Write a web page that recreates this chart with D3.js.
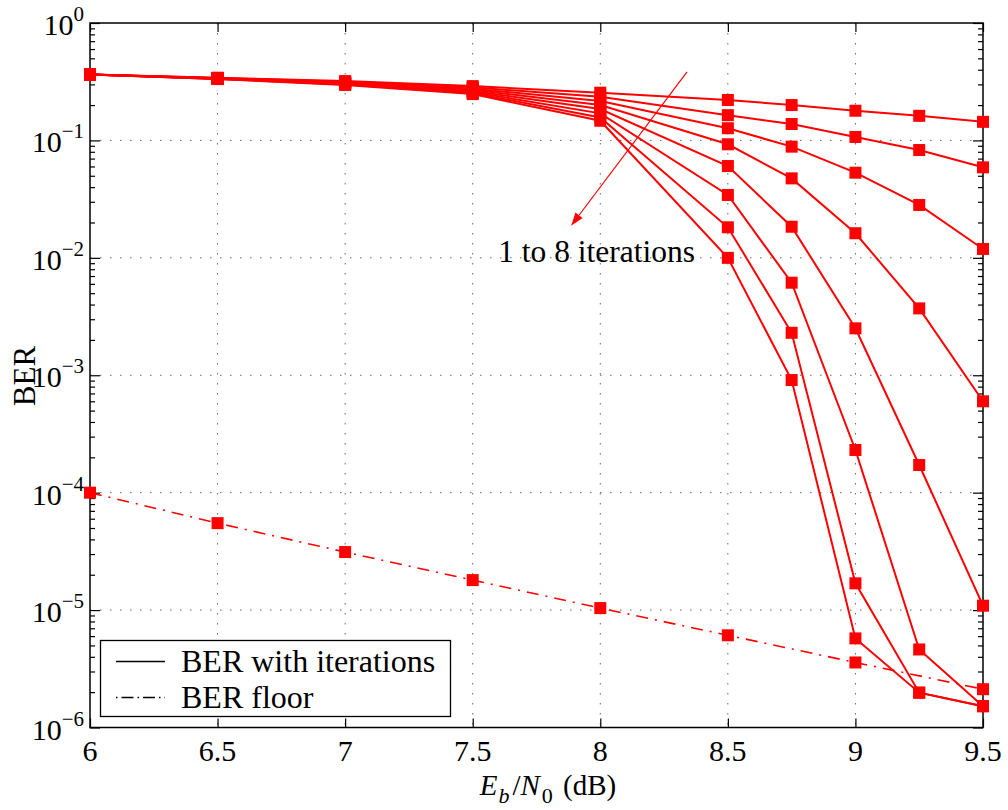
<!DOCTYPE html>
<html>
<head>
<meta charset="utf-8">
<script src="https://cdn.jsdelivr.net/npm/d3@7/dist/d3.min.js"></script>
<style>
  html, body { margin: 0; padding: 0; background: #fff; }
  svg { display: block; }
</style>
</head>
<body>
<svg id="chart" width="1008" height="810" font-family="'Liberation Serif', Tinos, 'Times New Roman', Times, 'DejaVu Serif', serif"></svg>
<script>
// ---- data ----
const ebn0 = [6, 6.5, 7, 7.5, 8, 8.5, 8.75, 9, 9.25, 9.5];
const iter1 = [0.365, 0.342, 0.320, 0.290, 0.255, 0.221, 0.200, 0.179, 0.162, 0.144];
const iter2 = [0.365, 0.340, 0.316, 0.283, 0.235, 0.164, 0.138, 0.107, 0.0828, 0.059];
const iter3 = [0.365, 0.338, 0.312, 0.276, 0.217, 0.127, 0.0885, 0.0531, 0.0282, 0.0119];
const iter4 = [0.365, 0.337, 0.309, 0.270, 0.200, 0.0927, 0.0475, 0.0162, 0.00371, 6.0e-4];
const iter5 = [0.365, 0.336, 0.306, 0.264, 0.185, 0.0605, 0.0184, 0.00251, 1.72e-4, 1.09e-5];
const iter6 = [0.365, 0.335, 0.303, 0.258, 0.170, 0.0343, 0.00614, 2.31e-4, 4.62e-6, 1.52e-6];
const iter7 = [0.365, 0.334, 0.300, 0.253, 0.157, 0.0182, 0.0023, 1.69e-5, 1.98e-6, 1.52e-6];
const iter8 = [0.365, 0.333, 0.297, 0.248, 0.147, 0.0100, 9.1e-4, 5.74e-6, 1.98e-6, 1.52e-6];
const iterations = [iter1, iter2, iter3, iter4, iter5, iter6, iter7, iter8];

const floorX = [6, 6.5, 7, 7.5, 8, 8.5, 9, 9.5];
const floorBER = [1.0e-4, 5.5e-5, 3.12e-5, 1.8e-5, 1.04e-5, 6.1e-6, 3.58e-6, 2.12e-6];

const xTicks = [6, 6.5, 7, 7.5, 8, 8.5, 9, 9.5];
const yExponents = [0, -1, -2, -3, -4, -5, -6];
const legendLabels = ["BER with iterations", "BER floor"];
const annotationText = "1 to 8 iterations";
const arrowFrom = [8.34, 0.383];
const arrowTo = [7.886, 0.0188];
const annotationPos = [7.6, 0.0092];

// ---- layout ----
const L = 90, R = 983, T = 23, B = 727.5;
const red = "#ff0000";
const svg = d3.select("#chart");

const x = d3.scaleLinear().domain([6, 9.5]).range([L, R]);
const y = d3.scaleLog().domain([1e-6, 1]).range([B, T]);

// grid
const grid = svg.append("g");
xTicks.forEach(t => {
  if (t === 6 || t === 9.5) return;
  grid.append("line").attr("x1", x(t)).attr("x2", x(t)).attr("y1", T).attr("y2", B)
    .attr("stroke", "#666").attr("stroke-width", 1).attr("stroke-dasharray", "1.5,8.5");
});
yExponents.forEach(e => {
  if (e === 0 || e === -6) return;
  const v = Math.pow(10, e);
  grid.append("line").attr("x1", L).attr("x2", R).attr("y1", y(v)).attr("y2", y(v))
    .attr("stroke", "#666").attr("stroke-width", 1).attr("stroke-dasharray", "1.5,8.5");
});

// axes with inside ticks
const majorY = yExponents.map(e => Math.pow(10, e));
const minorY = [];
for (let e = -6; e < 0; e++) for (let m = 2; m <= 9; m++) minorY.push(m * Math.pow(10, e));

function addAxis(axisGen, tx, ty) {
  const g = svg.append("g").attr("transform", `translate(${tx},${ty})`).call(axisGen);
  g.selectAll("text").remove();
  g.select(".domain").remove();
  g.selectAll("line").attr("stroke", "#000").attr("stroke-width", 1.2);
  return g;
}
addAxis(d3.axisTop(x).tickValues(xTicks).tickSize(9), 0, B);
addAxis(d3.axisBottom(x).tickValues(xTicks).tickSize(9), 0, T);
addAxis(d3.axisRight(y).tickValues(majorY).tickSize(10), L, 0);
addAxis(d3.axisRight(y).tickValues(minorY).tickSize(5), L, 0);
addAxis(d3.axisLeft(y).tickValues(majorY).tickSize(10), R, 0);
addAxis(d3.axisLeft(y).tickValues(minorY).tickSize(5), R, 0);

svg.append("rect").attr("x", L).attr("y", T).attr("width", R - L).attr("height", B - T)
  .attr("fill", "none").attr("stroke", "#000").attr("stroke-width", 1.5);

// x tick labels
xTicks.forEach(t => {
  svg.append("text").attr("x", x(t)).attr("y", 761).attr("text-anchor", "middle")
    .attr("font-size", 30).text(String(t));
});
// y tick labels
yExponents.forEach(e => {
  const v = Math.pow(10, e);
  const tx = svg.append("text").attr("x", 84).attr("y", y(v) + 12).attr("text-anchor", "end")
    .attr("font-size", 30);
  tx.append("tspan").text("10");
  tx.append("tspan").attr("dy", -14).attr("font-size", 21).text(e === 0 ? "0" : "\u2212" + Math.abs(e));
});

// axis labels
const xl = svg.append("text").attr("x", 548).attr("y", 795).attr("text-anchor", "middle").attr("font-size", 29);
xl.append("tspan").attr("font-style", "italic").text("E");
xl.append("tspan").attr("font-style", "italic").attr("font-size", 22).attr("dy", 8).attr("dx", 1).text("b");
xl.append("tspan").attr("dy", -8).attr("dx", 3).text("/");
xl.append("tspan").attr("font-style", "italic").text("N");
xl.append("tspan").attr("font-size", 22).attr("dy", 8).attr("dx", 2).text("0");
xl.append("tspan").attr("dy", -8).attr("dx", 3).text(" (dB)");

svg.append("text").attr("transform", "translate(35,376) rotate(-90)").attr("text-anchor", "middle")
  .attr("font-size", 31).text("BER");

// series
const line = d3.line().x(d => x(d[0])).y(d => y(d[1]));
const plot = svg.append("g");
iterations.forEach(s => {
  const pts = ebn0.map((xv, i) => [xv, s[i]]);
  plot.append("path").attr("d", line(pts)).attr("fill", "none").attr("stroke", red).attr("stroke-width", 2);
});
const floorPts = floorX.map((xv, i) => [xv, floorBER[i]]);
plot.append("path").attr("d", line(floorPts)).attr("fill", "none").attr("stroke", red)
  .attr("stroke-width", 1.6).attr("stroke-dasharray", "12,7,2,7");

const ms = 12;
iterations.forEach(s => {
  ebn0.forEach((xv, i) => {
    plot.append("rect").attr("x", x(xv) - ms / 2).attr("y", y(s[i]) - ms / 2)
      .attr("width", ms).attr("height", ms).attr("fill", red);
  });
});
floorPts.forEach(p => {
  plot.append("rect").attr("x", x(p[0]) - ms / 2).attr("y", y(p[1]) - ms / 2)
    .attr("width", ms).attr("height", ms).attr("fill", red);
});

// annotation arrow
const ax1 = x(arrowFrom[0]), ay1 = y(arrowFrom[1]), ax2 = x(arrowTo[0]), ay2 = y(arrowTo[1]);
const ang = Math.atan2(ay2 - ay1, ax2 - ax1);
const hl = 13, hw = 4.5;
const bx = ax2 - hl * Math.cos(ang), by = ay2 - hl * Math.sin(ang);
svg.append("line").attr("x1", ax1).attr("y1", ay1).attr("x2", bx).attr("y2", by)
  .attr("stroke", red).attr("stroke-width", 1.2);
svg.append("path").attr("d",
  `M${ax2},${ay2} L${bx + hw * Math.sin(ang)},${by - hw * Math.cos(ang)} L${bx - hw * Math.sin(ang)},${by + hw * Math.cos(ang)} Z`)
  .attr("fill", red);
svg.append("text").attr("x", x(annotationPos[0])).attr("y", y(annotationPos[1]))
  .attr("font-size", 31.5).text(annotationText);

// legend
const lg = svg.append("g");
lg.append("rect").attr("x", 100.5).attr("y", 640.5).attr("width", 350).attr("height", 76)
  .attr("fill", "#fff").attr("stroke", "#000").attr("stroke-width", 1.3);
lg.append("line").attr("x1", 116).attr("x2", 165).attr("y1", 661.5).attr("y2", 661.5)
  .attr("stroke", "#000").attr("stroke-width", 1.5);
lg.append("line").attr("x1", 116).attr("x2", 165).attr("y1", 697.5).attr("y2", 697.5)
  .attr("stroke", "#000").attr("stroke-width", 1.3).attr("stroke-dasharray", "1.5,4,12,4");
lg.append("text").attr("x", 181).attr("y", 672).attr("font-size", 32).text(legendLabels[0]);
lg.append("text").attr("x", 181).attr("y", 708).attr("font-size", 32).text(legendLabels[1]);
</script>
</body>
</html>
